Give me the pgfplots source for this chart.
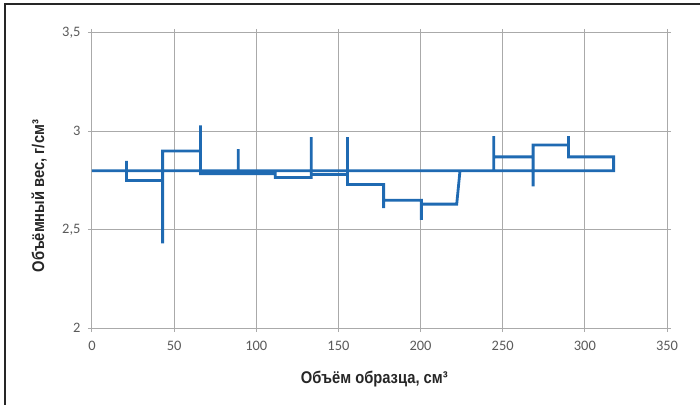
\documentclass[border=0pt]{standalone}
\usepackage{pgfplots}
\pgfplotsset{compat=1.18}
\usepackage{fontspec}
\setmainfont{Carlito}
\newfontfamily\labelfont[FakeStretch=0.87]{Liberation Sans}
\definecolor{lineblue}{RGB}{31,106,178}
\definecolor{gridgray}{RGB}{170,170,170}
\definecolor{tickgray}{RGB}{90,90,90}
\begin{document}
\begin{tikzpicture}
\begin{axis}[
    at={(0,0)}, anchor=origin,
    width=575bp, height=295bp,
    scale only axis,
    xmin=0, xmax=350, ymin=2, ymax=3.5,
    xtick={0,50,...,350},
    ytick={2,2.5,3,3.5},
    grid=major,
    major grid style={gridgray, line width=1bp},
    axis line style={gridgray, line width=1bp},
    tick style={gridgray, line width=1bp},
    tick align=outside,
    major tick length=4bp,
    tick label style={font=\fontsize{14.5}{16}\selectfont, text=tickgray},
    /pgf/number format/use comma,
    /pgf/number format/assume math mode=true,
    xticklabel style={yshift=-6bp},
    yticklabel style={xshift=-4bp},
    xlabel={Объём образца, см³},
    ylabel={Объёмный вес, г/см³},
    label style={font=\labelfont\bfseries\fontsize{17}{19}\selectfont, text=black!85},
    xlabel style={at={(axis description cs:0.491,-0.173)}, anchor=center},
    ylabel style={at={(axis description cs:-0.092,0.447)}, anchor=center},
]
\addplot[lineblue, line width=2.8bp, line join=miter, forget plot] coordinates {
    (0,2.80) (21,2.80) (21,2.85) (21,2.75)
    (43,2.75) (43,2.43) (43,2.90)
    (66,2.90) (66,3.03) (66,2.785)
    (89,2.785) (89,2.91) (89,2.785)
    (111.5,2.785) (111.5,2.765)
    (133.5,2.765) (133.5,2.97) (133.5,2.78)
    (155.5,2.78) (155.5,2.97) (155.5,2.73)
    (177.5,2.73) (177.5,2.61) (177.5,2.65)
    (200.5,2.65) (200.5,2.55) (200.5,2.63)
    (222,2.63) (224,2.80)
    (244.5,2.80) (244.5,2.975) (244.5,2.87)
    (268.5,2.87) (268.5,2.72) (268.5,2.93)
    (290,2.93) (290,2.975) (290,2.87)
    (317.5,2.87) (317.5,2.80) (0,2.80)
};
\end{axis}
\draw[line width=1.5bp, black!85] (-87bp,-77bp) -- (-87bp,324bp) -- (608bp,324bp);
\pgfresetboundingbox
\path (-92bp,-77bp) rectangle (608bp,328bp);
\end{tikzpicture}
\end{document}
